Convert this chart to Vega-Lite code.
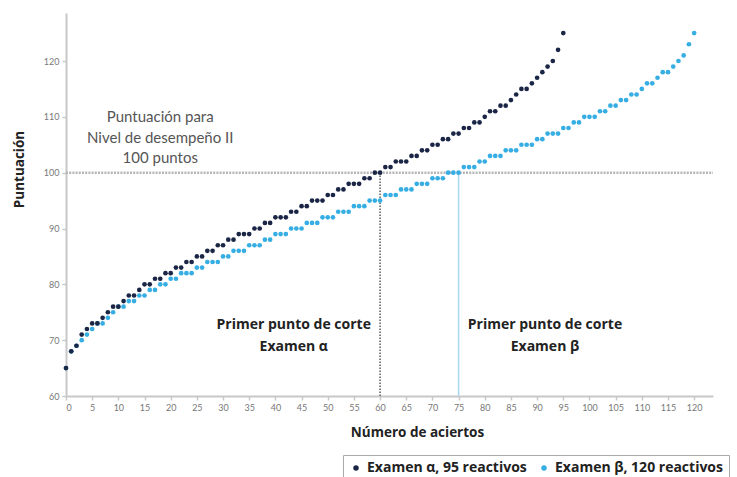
{
  "$schema": "https://vega.github.io/schema/vega-lite/v6.json",
  "width": 647,
  "height": 383,
  "autosize": {"type": "none"},
  "padding": {"left": 66, "top": 13, "right": 24, "bottom": 81},
  "background": "white",
  "config": {
    "view": {"stroke": null},
    "legend": {"strokeColor": "#aaa", "strokeWidth": 1},
    "axis": {
      "grid": false,
      "domainColor": "#c8c8c8",
      "domainWidth": 2,
      "tickColor": "#c8c8c8",
      "tickSize": 4,
      "tickWidth": 1.5,
      "labelColor": "#777",
      "labelFont": "Lato",
      "labelFontSize": 9,
      "titleFont": "Open Sans",
      "titleFontSize": 13.5,
      "titleFontWeight": "bold",
      "titleColor": "#222"
    }
  },
  "datasets": {
    "pts": [
      {"x":0,"y":65,"s":"b"},{"x":1,"y":68,"s":"b"},{"x":2,"y":69,"s":"b"},{"x":3,"y":70,"s":"b"},{"x":4,"y":71,"s":"b"},{"x":5,"y":72,"s":"b"},{"x":6,"y":73,"s":"b"},{"x":7,"y":73,"s":"b"},{"x":8,"y":74,"s":"b"},{"x":9,"y":75,"s":"b"},
      {"x":10,"y":76,"s":"b"},{"x":11,"y":76,"s":"b"},{"x":12,"y":77,"s":"b"},{"x":13,"y":77,"s":"b"},{"x":14,"y":78,"s":"b"},{"x":15,"y":78,"s":"b"},{"x":16,"y":79,"s":"b"},{"x":17,"y":79,"s":"b"},{"x":18,"y":80,"s":"b"},{"x":19,"y":80,"s":"b"},
      {"x":20,"y":81,"s":"b"},{"x":21,"y":81,"s":"b"},{"x":22,"y":82,"s":"b"},{"x":23,"y":82,"s":"b"},{"x":24,"y":82,"s":"b"},{"x":25,"y":83,"s":"b"},{"x":26,"y":83,"s":"b"},{"x":27,"y":84,"s":"b"},{"x":28,"y":84,"s":"b"},{"x":29,"y":84,"s":"b"},
      {"x":30,"y":85,"s":"b"},{"x":31,"y":85,"s":"b"},{"x":32,"y":86,"s":"b"},{"x":33,"y":86,"s":"b"},{"x":34,"y":86,"s":"b"},{"x":35,"y":87,"s":"b"},{"x":36,"y":87,"s":"b"},{"x":37,"y":87,"s":"b"},{"x":38,"y":88,"s":"b"},{"x":39,"y":88,"s":"b"},
      {"x":40,"y":89,"s":"b"},{"x":41,"y":89,"s":"b"},{"x":42,"y":89,"s":"b"},{"x":43,"y":90,"s":"b"},{"x":44,"y":90,"s":"b"},{"x":45,"y":90,"s":"b"},{"x":46,"y":91,"s":"b"},{"x":47,"y":91,"s":"b"},{"x":48,"y":91,"s":"b"},{"x":49,"y":92,"s":"b"},
      {"x":50,"y":92,"s":"b"},{"x":51,"y":92,"s":"b"},{"x":52,"y":93,"s":"b"},{"x":53,"y":93,"s":"b"},{"x":54,"y":93,"s":"b"},{"x":55,"y":94,"s":"b"},{"x":56,"y":94,"s":"b"},{"x":57,"y":94,"s":"b"},{"x":58,"y":95,"s":"b"},{"x":59,"y":95,"s":"b"},
      {"x":60,"y":95,"s":"b"},{"x":61,"y":96,"s":"b"},{"x":62,"y":96,"s":"b"},{"x":63,"y":96,"s":"b"},{"x":64,"y":97,"s":"b"},{"x":65,"y":97,"s":"b"},{"x":66,"y":97,"s":"b"},{"x":67,"y":98,"s":"b"},{"x":68,"y":98,"s":"b"},{"x":69,"y":98,"s":"b"},
      {"x":70,"y":99,"s":"b"},{"x":71,"y":99,"s":"b"},{"x":72,"y":99,"s":"b"},{"x":73,"y":100,"s":"b"},{"x":74,"y":100,"s":"b"},{"x":75,"y":100,"s":"b"},{"x":76,"y":101,"s":"b"},{"x":77,"y":101,"s":"b"},{"x":78,"y":101,"s":"b"},{"x":79,"y":102,"s":"b"},
      {"x":80,"y":102,"s":"b"},{"x":81,"y":103,"s":"b"},{"x":82,"y":103,"s":"b"},{"x":83,"y":103,"s":"b"},{"x":84,"y":104,"s":"b"},{"x":85,"y":104,"s":"b"},{"x":86,"y":104,"s":"b"},{"x":87,"y":105,"s":"b"},{"x":88,"y":105,"s":"b"},{"x":89,"y":105,"s":"b"},
      {"x":90,"y":106,"s":"b"},{"x":91,"y":106,"s":"b"},{"x":92,"y":107,"s":"b"},{"x":93,"y":107,"s":"b"},{"x":94,"y":107,"s":"b"},{"x":95,"y":108,"s":"b"},{"x":96,"y":108,"s":"b"},{"x":97,"y":109,"s":"b"},{"x":98,"y":109,"s":"b"},{"x":99,"y":110,"s":"b"},
      {"x":100,"y":110,"s":"b"},{"x":101,"y":110,"s":"b"},{"x":102,"y":111,"s":"b"},{"x":103,"y":111,"s":"b"},{"x":104,"y":112,"s":"b"},{"x":105,"y":112,"s":"b"},{"x":106,"y":113,"s":"b"},{"x":107,"y":113,"s":"b"},{"x":108,"y":114,"s":"b"},{"x":109,"y":114,"s":"b"},
      {"x":110,"y":115,"s":"b"},{"x":111,"y":116,"s":"b"},{"x":112,"y":116,"s":"b"},{"x":113,"y":117,"s":"b"},{"x":114,"y":118,"s":"b"},{"x":115,"y":118,"s":"b"},{"x":116,"y":119,"s":"b"},{"x":117,"y":120,"s":"b"},{"x":118,"y":121,"s":"b"},{"x":119,"y":123,"s":"b"},
      {"x":120,"y":125,"s":"b"},
      {"x":0,"y":65,"s":"a"},{"x":1,"y":68,"s":"a"},{"x":2,"y":69,"s":"a"},{"x":3,"y":71,"s":"a"},{"x":4,"y":72,"s":"a"},{"x":5,"y":73,"s":"a"},{"x":6,"y":73,"s":"a"},{"x":7,"y":74,"s":"a"},{"x":8,"y":75,"s":"a"},{"x":9,"y":76,"s":"a"},
      {"x":10,"y":76,"s":"a"},{"x":11,"y":77,"s":"a"},{"x":12,"y":78,"s":"a"},{"x":13,"y":78,"s":"a"},{"x":14,"y":79,"s":"a"},{"x":15,"y":80,"s":"a"},{"x":16,"y":80,"s":"a"},{"x":17,"y":81,"s":"a"},{"x":18,"y":81,"s":"a"},{"x":19,"y":82,"s":"a"},
      {"x":20,"y":82,"s":"a"},{"x":21,"y":83,"s":"a"},{"x":22,"y":83,"s":"a"},{"x":23,"y":84,"s":"a"},{"x":24,"y":84,"s":"a"},{"x":25,"y":85,"s":"a"},{"x":26,"y":85,"s":"a"},{"x":27,"y":86,"s":"a"},{"x":28,"y":86,"s":"a"},{"x":29,"y":87,"s":"a"},
      {"x":30,"y":87,"s":"a"},{"x":31,"y":88,"s":"a"},{"x":32,"y":88,"s":"a"},{"x":33,"y":89,"s":"a"},{"x":34,"y":89,"s":"a"},{"x":35,"y":89,"s":"a"},{"x":36,"y":90,"s":"a"},{"x":37,"y":90,"s":"a"},{"x":38,"y":91,"s":"a"},{"x":39,"y":91,"s":"a"},
      {"x":40,"y":92,"s":"a"},{"x":41,"y":92,"s":"a"},{"x":42,"y":92,"s":"a"},{"x":43,"y":93,"s":"a"},{"x":44,"y":93,"s":"a"},{"x":45,"y":94,"s":"a"},{"x":46,"y":94,"s":"a"},{"x":47,"y":95,"s":"a"},{"x":48,"y":95,"s":"a"},{"x":49,"y":95,"s":"a"},
      {"x":50,"y":96,"s":"a"},{"x":51,"y":96,"s":"a"},{"x":52,"y":97,"s":"a"},{"x":53,"y":97,"s":"a"},{"x":54,"y":98,"s":"a"},{"x":55,"y":98,"s":"a"},{"x":56,"y":98,"s":"a"},{"x":57,"y":99,"s":"a"},{"x":58,"y":99,"s":"a"},{"x":59,"y":100,"s":"a"},
      {"x":60,"y":100,"s":"a"},{"x":61,"y":101,"s":"a"},{"x":62,"y":101,"s":"a"},{"x":63,"y":102,"s":"a"},{"x":64,"y":102,"s":"a"},{"x":65,"y":102,"s":"a"},{"x":66,"y":103,"s":"a"},{"x":67,"y":103,"s":"a"},{"x":68,"y":104,"s":"a"},{"x":69,"y":104,"s":"a"},
      {"x":70,"y":105,"s":"a"},{"x":71,"y":105,"s":"a"},{"x":72,"y":106,"s":"a"},{"x":73,"y":106,"s":"a"},{"x":74,"y":107,"s":"a"},{"x":75,"y":107,"s":"a"},{"x":76,"y":108,"s":"a"},{"x":77,"y":108,"s":"a"},{"x":78,"y":109,"s":"a"},{"x":79,"y":109,"s":"a"},
      {"x":80,"y":110,"s":"a"},{"x":81,"y":111,"s":"a"},{"x":82,"y":111,"s":"a"},{"x":83,"y":112,"s":"a"},{"x":84,"y":112,"s":"a"},{"x":85,"y":113,"s":"a"},{"x":86,"y":114,"s":"a"},{"x":87,"y":115,"s":"a"},{"x":88,"y":115,"s":"a"},{"x":89,"y":116,"s":"a"},
      {"x":90,"y":117,"s":"a"},{"x":91,"y":118,"s":"a"},{"x":92,"y":119,"s":"a"},{"x":93,"y":120,"s":"a"},{"x":94,"y":122,"s":"a"},{"x":95,"y":125,"s":"a"}
    ]
  },
  "encoding": {
    "x": {
      "field": "x",
      "type": "quantitative",
      "scale": {"domain": [0, 123.6], "nice": false, "zero": false},
      "axis": {
        "title": "Número de aciertos",
        "values": [0,5,10,15,20,25,30,35,40,45,50,55,60,65,70,75,80,85,90,95,100,105,110,115,120],
        "labelPadding": 3,
        "titleX": 351,
        "titleY": 36,
        "titleBaseline": "middle",
        "titleAlign": "center"
      }
    },
    "y": {
      "field": "y",
      "type": "quantitative",
      "scale": {"domain": [60, 128.6], "nice": false, "zero": false},
      "axis": {
        "title": "Puntuación",
        "values": [60,70,80,90,100,110,120],
        "labelPadding": 3,
        "titleX": -47,
        "titleY": 156,
        "titleAngle": -90,
        "titleBaseline": "middle",
        "titleAlign": "center"
      }
    }
  },
  "layer": [
    {
      "data": {"values": [{"x": 0, "x2": 123.6, "y": 100}]},
      "mark": {"type": "rule", "color": "#b5b5b5", "strokeWidth": 2.5, "strokeDash": [2, 1.2]},
      "encoding": {"x2": {"field": "x2"}}
    },
    {
      "data": {"values": [{"x": 60, "y": 60, "y2": 100}]},
      "mark": {"type": "rule", "color": "#333", "strokeWidth": 1.2, "strokeDash": [1.5, 1.5]},
      "encoding": {"y2": {"field": "y2"}}
    },
    {
      "data": {"values": [{"x": 75, "y": 60, "y2": 100}]},
      "mark": {"type": "rule", "color": "#a8d8f0", "strokeWidth": 1.5},
      "encoding": {"y2": {"field": "y2"}}
    },
    {
      "data": {"name": "pts"},
      "mark": {"type": "point", "filled": true, "shape": "circle", "size": 22, "opacity": 1},
      "encoding": {
        "color": {
          "field": "s",
          "type": "nominal",
          "scale": {"domain": ["a", "b"], "range": ["#1b2646", "#36aee3"]},
          "legend": {
            "title": null,
            "orient": "none",
            "direction": "horizontal",
            "legendX": 277,
            "legendY": 442,
            "labelExpr": "datum.value == 'a' ? 'Examen α, 95 reactivos' : 'Examen β, 120 reactivos'",
            "labelFont": "Open Sans",
            "labelFontSize": 14,
            "labelFontWeight": "bold",
            "labelColor": "#222",
            "labelLimit": 400,
            "symbolType": "circle",
            "symbolSize": 30,
            "symbolStrokeWidth": 0,
            "strokeColor": "#aaa",
            "padding": 6,
            "columnPadding": 10,
            "labelOffset": 4
          }
        }
      }
    },
    {
      "data": {"values": [
        {"x": 18.0, "y": 110.0, "t": "Puntuación para"},
        {"x": 18.0, "y": 106.2, "t": "Nivel de desempeño II"},
        {"x": 18.0, "y": 102.6, "t": "100 puntos"}
      ]},
      "mark": {"type": "text", "font": "Lato", "fontSize": 15, "color": "#555", "align": "center", "baseline": "middle"},
      "encoding": {"text": {"field": "t"}}
    },
    {
      "data": {"values": [
        {"x": 43.5, "y": 72.7, "t": "Primer punto de corte"},
        {"x": 43.5, "y": 68.8, "t": "Examen α"},
        {"x": 91.5, "y": 72.7, "t": "Primer punto de corte"},
        {"x": 91.5, "y": 68.8, "t": "Examen β"}
      ]},
      "mark": {"type": "text", "font": "Open Sans", "fontSize": 14, "fontWeight": "bold", "color": "#222", "align": "center", "baseline": "middle"},
      "encoding": {"text": {"field": "t"}}
    }
  ]
}
